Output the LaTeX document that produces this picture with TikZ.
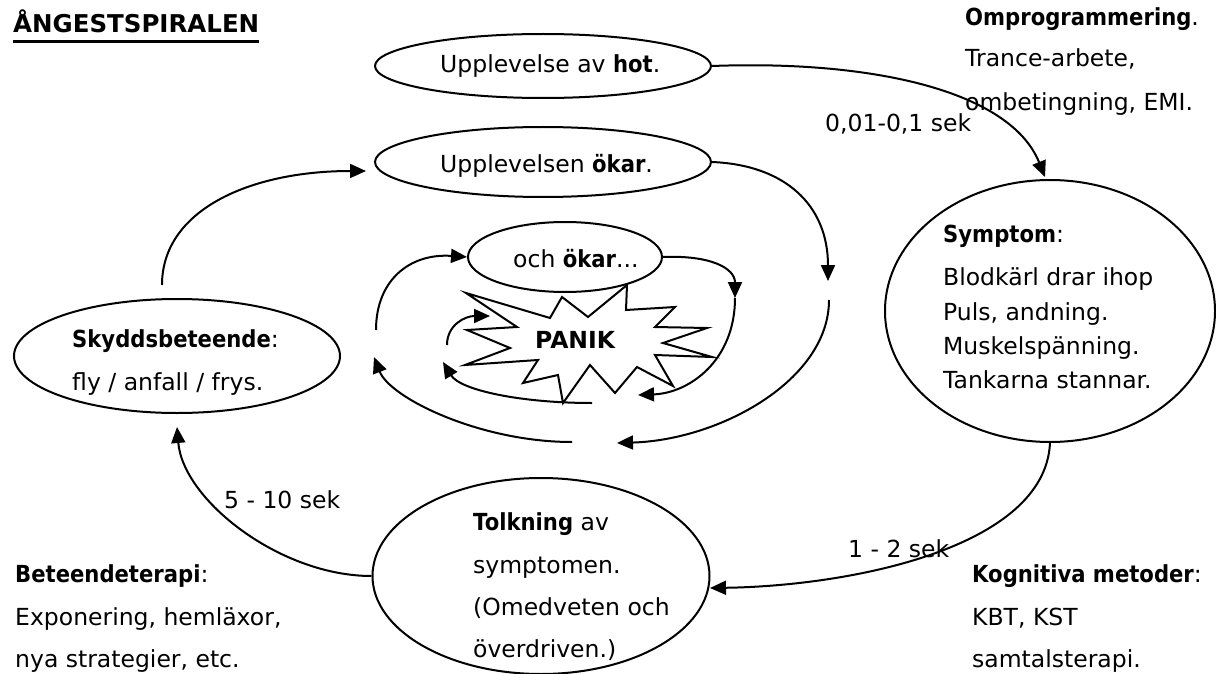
\documentclass[tikz,border=0pt]{standalone}
\usepackage{fontspec}
\setmainfont{DejaVu Sans}
\usetikzlibrary{shapes.geometric,arrows.meta}
\newcommand\bt[1]{{\bfseries\addfontfeature{FakeStretch=0.9}#1}}
\begin{document}
\begin{tikzpicture}[x=1pt,y=-1pt,
  txt/.style={anchor=base west,inner sep=0pt,font=\fontsize{23.5}{28}\selectfont},
  oval/.style={draw,ellipse,line width=2pt,inner sep=0pt,fill=white},
  arr/.style={line width=2pt,-{Triangle[length=16pt,width=14pt]}},
  starline/.style={line width=2pt,line join=miter}
]
\useasboundingbox (0,0) rectangle (1216,674);

% title
\node[txt,font=\fontsize{24.5}{28}\selectfont\bfseries] (title) at (13,33) {ÅNGESTSPIRALEN};
\draw[line width=3pt] ([yshift=-9pt]title.base west) -- ([yshift=-9pt]title.base east);

% PANIK star
\draw[starline] (466,293) -- (550,318) -- (562,297) -- (588,317) -- (627,285) -- (626,310)
  -- (675,307) -- (655,327) -- (707,328) -- (663,343) -- (712,357) -- (655,355)
  -- (673,386) -- (637,367) -- (615,393) -- (590,365) -- (563,403) -- (558,375)
  -- (523,383) -- (538,360) -- (465,365) -- (510,348) -- (467,330) -- (517,327) -- cycle;
\node[txt,font=\fontsize{23.5}{28}\selectfont\bfseries] (panik) at (535,348) {PANIK};

% ellipses
\node[oval,minimum width=336pt,minimum height=64pt] (e1) at (543,66) {};
\node[oval,minimum width=336pt,minimum height=70pt] (e2) at (543,162) {};
\node[oval,minimum width=194pt,minimum height=70pt] (e3) at (565,257) {};
\node[oval,minimum width=330pt,minimum height=262pt] (e6) at (1050,311) {};
\node[oval,minimum width=326pt,minimum height=114pt] (e4) at (177,356) {};
\node[oval,minimum width=337pt,minimum height=196pt] (e5) at (541,576) {};

% ellipse texts
\node[txt] (t1) at (440,73) {Upplevelse av \bt{hot}.};
\node[txt] (t2) at (440,172) {Upplevelsen \bt{ökar}.};
\node[txt] (t3) at (513,267) {och \bt{ökar}...};

\node[txt] (s1) at (943,242) {\bt{Symptom}:};
\node[txt] (s2) at (943,285) {Blodkärl drar ihop};
\node[txt] (s3) at (943,320) {Puls, andning.};
\node[txt] (s4) at (943,354) {Muskelspänning.};
\node[txt] (s5) at (943,388) {Tankarna stannar.};

\node[txt] (k1) at (72,347) {\bt{Skyddsbeteende}:};
\node[txt] (k2) at (72,390) {fly / anfall / frys.};

\node[txt] (o1) at (473,530) {\bt{Tolkning} av};
\node[txt] (o2) at (473,573) {symptomen.};
\node[txt] (o3) at (473,615) {(Omedveten och};
\node[txt] (o4) at (473,657) {överdriven.)};

% side texts
\node[txt] (p1) at (965,26) {\bt{Omprogrammering}.};
\node[txt] (p2) at (965,67) {Trance-arbete,};
\node[txt] (p3) at (965,111) {ombetingning, EMI.};

\node[txt] (b1) at (15,582) {\bt{Beteendeterapi}:};
\node[txt] (b2) at (15,625) {Exponering, hemläxor,};
\node[txt] (b3) at (15,667) {nya strategier, etc.};

\node[txt] (g1) at (972,582) {\bt{Kognitiva metoder}:};
\node[txt] (g2) at (972,625) {KBT, KST};
\node[txt] (g3) at (972,667) {samtalsterapi.};

% time labels
\node[txt] (l1) at (825,132) {0,01-0,1 sek};
\node[txt] (l2) at (848,557) {1 - 2 sek};
\node[txt] (l3) at (224,508) {5 - 10 sek};

% coordinates
\coordinate (a1) at (1045,177);
\coordinate (a2) at (828,281);
\coordinate (b3c) at (829,300);
\coordinate (a3) at (617,443);
\coordinate (b4c) at (572,442);
\coordinate (a4) at (374,357);
\coordinate (b5c) at (376,330);
\coordinate (a6) at (735,298);
\coordinate (a7) at (638,395);
\coordinate (b8c) at (592,403);
\coordinate (a8) at (443,362);
\coordinate (b9c) at (447,345);
\coordinate (a9) at (490,316);
\coordinate (b10c) at (162,285);
\coordinate (a10) at (366,171);
\coordinate (a11) at (177,427);
\coordinate (a12) at (710,588);

% connectors
\draw[arr] (e1.east) .. controls (870,60) and (1010,90) .. (a1);
\draw[arr] (e2.east) .. controls (785,165) and (828,205) .. (a2);
\draw[arr] (b3c) .. controls (829,380) and (720,440) .. (a3);
\draw[arr] (b4c) .. controls (480,442) and (390,398) .. (a4);
\draw[arr] (b5c) .. controls (376,280) and (410,253) .. (e3.west);
\draw[arr] (e3.east) .. controls (710,255) and (735,268) .. (a6);
\draw[arr] (a6) .. controls (735,360) and (690,393) .. (a7);
\draw[arr] (b8c) .. controls (520,403) and (460,390) .. (a8);
\draw[arr] (b9c) .. controls (447,325) and (465,316) .. (a9);
\draw[arr] (b10c) .. controls (162,210) and (250,171) .. (a10);
\draw[arr] (e5.west) .. controls (280,576) and (183,500) .. (a11);
\draw[arr] (e6.south) .. controls (1045,548) and (850,586) .. (a12);
\end{tikzpicture}
\end{document}
